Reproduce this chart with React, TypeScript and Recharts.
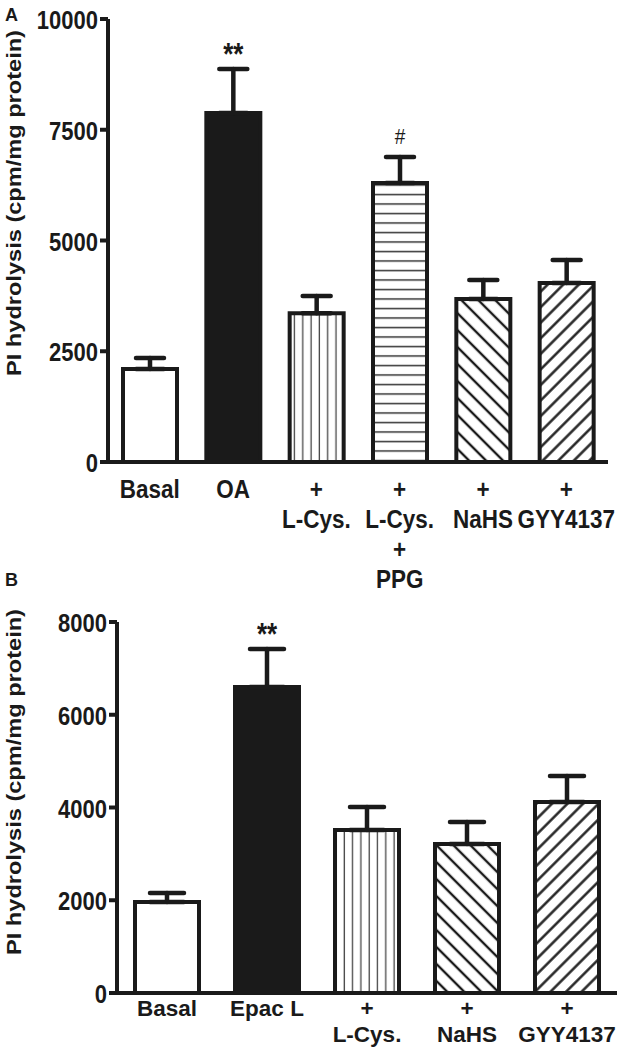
import { Bar, BarChart, Cell, ErrorBar, LabelList, XAxis, YAxis } from "recharts";

// panel A – oleic acid
const panelACategories = ["Basal", "OA", "+\nL-Cys.", "+\nL-Cys.\n+\nPPG", "+\nNaHS", "+\nGYY4137"];
const panelAMeans = [2100, 7880, 3360, 6300, 3680, 4040];
const panelASem = [250, 990, 390, 585, 430, 520];
const panelAMarks = ["", "**", "", "#", "", ""];
const panelATicks = [0, 2500, 5000, 7500, 10000];

// panel B – Epac L
const panelBCategories = ["Basal", "Epac L", "+\nL-Cys.", "+\nNaHS", "+\nGYY4137"];
const panelBMeans = [1960, 6600, 3515, 3215, 4120];
const panelBSem = [195, 820, 495, 475, 560];
const panelBMarks = ["", "**", "", "", ""];
const panelBTicks = [0, 2000, 4000, 6000, 8000];

const yAxisTitle = "PI hydrolysis (cpm/mg protein)";

const INK = "#1a1a1a";
const FONT = "'Liberation Sans', Arial, Helvetica, sans-serif";
// the source figure is stretched vertically, so text is too
const STRETCH = 1.18;

const panelAFills = ["#ffffff", INK, "url(#vlines)", "url(#hlines)", "url(#backslash)", "url(#slash)"];
const panelBFills = ["#ffffff", INK, "url(#vlines)", "url(#backslash)", "url(#slash)"];

const markStyles: Record<string, { size: number; weight: string; gap: number }> = {
  "**": { size: 26, weight: "bold", gap: 4 },
  "#": { size: 19, weight: "normal", gap: 13 },
};

type PanelProps = {
  letter: string;
  categories: string[];
  means: number[];
  sem: number[];
  marks: string[];
  ticks: number[];
  fills: string[];
  top: number;
  height: number;
  plotTop: number;
  xAxisHeight: number;
  yAxisWidth: number;
  right: number;
  barSize: number;
  capHalfWidth: number;
  labelBaseline: number;
  labelGap: number;
  labelStretch: number;
  titleCenter: number;
  letterBaseline: number;
};

function PatternDefs() {
  return (
    <defs>
      <pattern id="vlines" patternUnits="userSpaceOnUse" width={8.3} height={10}>
        <rect width={8.3} height={10} fill="#fff" />
        <line x1={4} y1={0} x2={4} y2={10} stroke="#444" strokeWidth={1.3} />
      </pattern>
      <pattern id="hlines" patternUnits="userSpaceOnUse" width={10} height={9.5}>
        <rect width={10} height={9.5} fill="#fff" />
        <line x1={0} y1={4.5} x2={10} y2={4.5} stroke="#333" strokeWidth={1.5} />
      </pattern>
      <pattern id="backslash" patternUnits="userSpaceOnUse" width={12} height={12} patternTransform="rotate(-45)">
        <rect width={12} height={12} fill="#fff" />
        <line x1={6} y1={0} x2={6} y2={12} stroke={INK} strokeWidth={2.4} />
      </pattern>
      <pattern id="slash" patternUnits="userSpaceOnUse" width={11} height={11} patternTransform="rotate(45)">
        <rect width={11} height={11} fill="#fff" />
        <line x1={5.5} y1={0} x2={5.5} y2={11} stroke={INK} strokeWidth={2.4} />
      </pattern>
    </defs>
  );
}

function ValueTick({ x, y, payload }: any) {
  return (
    <text
      transform={`translate(${x},${y + 10}) scale(1,${STRETCH})`}
      textAnchor="end"
      fontFamily={FONT}
      fontWeight="bold"
      fontSize={22}
      fill={INK}
    >
      {payload.value}
    </text>
  );
}

function CategoryTick({ x, y, payload, baseline, gap, stretch }: any) {
  const lines = String(payload.value).split("\n");
  return (
    <text
      transform={`translate(${x},${y + baseline}) scale(1,${stretch})`}
      textAnchor="middle"
      fontFamily={FONT}
      fontWeight="bold"
      fontSize={22.5}
      fill={INK}
    >
      {lines.map((line, i) => (
        <tspan key={i} x={0} dy={i === 0 ? 0 : gap / stretch}>
          {line}
        </tspan>
      ))}
    </text>
  );
}

function Panel(p: PanelProps) {
  const data = p.categories.map((name, i) => ({
    name,
    mean: p.means[i],
    errRange: [0, p.sem[i]],
    mark: p.marks[i],
  }));
  const domainMax = p.ticks[p.ticks.length - 1];

  const renderMark = (props: any) => {
    const { x, y, width, height, value, index } = props;
    if (!value) return null;
    const style = markStyles[value];
    const capY = y - (height * p.sem[index]) / p.means[index];
    return (
      <text
        transform={`translate(${x + width / 2},${capY - style.gap}) scale(1,${STRETCH})`}
        textAnchor="middle"
        fontFamily={FONT}
        fontWeight={style.weight}
        fontSize={style.size}
        fill={INK}
      >
        {value}
      </text>
    );
  };

  return (
    <div style={{ position: "absolute", left: 0, top: p.top, width: 630, height: p.height }}>
      <div
        style={{
          position: "absolute",
          left: 5,
          top: p.letterBaseline - 16,
          fontFamily: FONT,
          fontWeight: "bold",
          fontSize: 18,
          lineHeight: "18px",
          color: INK,
        }}
      >
        {p.letter}
      </div>
      <BarChart
        width={630}
        height={p.height}
        data={data}
        margin={{ top: p.plotTop, right: p.right, bottom: 0, left: 0 }}
        barCategoryGap={0}
      >
        <PatternDefs />
        <XAxis
          dataKey="name"
          interval={0}
          height={p.xAxisHeight}
          tickLine={false}
          tickSize={0}
          tickMargin={0}
          axisLine={{ stroke: INK, strokeWidth: 4 }}
          tick={(props: any) => (
            <CategoryTick {...props} baseline={p.labelBaseline} gap={p.labelGap} stretch={p.labelStretch} />
          )}
        />
        <YAxis
          type="number"
          domain={[0, domainMax]}
          ticks={p.ticks}
          interval={0}
          width={p.yAxisWidth}
          tickSize={8}
          tickMargin={2}
          axisLine={{ stroke: INK, strokeWidth: 4 }}
          tickLine={{ stroke: INK, strokeWidth: 4 }}
          tick={(props: any) => <ValueTick {...props} />}
          label={{
            content: () => (
              <text
                transform={`translate(21,${p.titleCenter}) scale(1,${STRETCH}) rotate(-90)`}
                textAnchor="middle"
                fontFamily={FONT}
                fontWeight="bold"
                fontSize={20}
                fill={INK}
              >
                {yAxisTitle}
              </text>
            ),
          }}
        />
        <Bar dataKey="mean" barSize={p.barSize} stroke={INK} strokeWidth={4} isAnimationActive={false}>
          {data.map((row, i) => (
            <Cell key={row.name} fill={p.fills[i]} />
          ))}
          <ErrorBar
            dataKey="errRange"
            direction="y"
            width={p.capHalfWidth}
            stroke={INK}
            strokeWidth={4.5}
            strokeLinecap="round"
            isAnimationActive={false}
          />
          <LabelList dataKey="mark" content={renderMark} />
        </Bar>
      </BarChart>
    </div>
  );
}

export default function App() {
  return (
    <div style={{ position: "absolute", left: 0, top: 0, width: 630, height: 1050, background: "#fff" }}>
      <Panel
        letter="A"
        categories={panelACategories}
        means={panelAMeans}
        sem={panelASem}
        marks={panelAMarks}
        ticks={panelATicks}
        fills={panelAFills}
        top={0}
        height={600}
        plotTop={19}
        xAxisHeight={138}
        yAxisWidth={108}
        right={22}
        barSize={54}
        capHalfWidth={14}
        labelBaseline={36}
        labelGap={30}
        labelStretch={STRETCH}
        titleCenter={203}
        letterBaseline={22}
      />
      <Panel
        letter="B"
        categories={panelBCategories}
        means={panelBMeans}
        sem={panelBSem}
        marks={panelBMarks}
        ticks={panelBTicks}
        fills={panelBFills}
        top={570}
        height={480}
        plotTop={52}
        xAxisHeight={57}
        yAxisWidth={117}
        right={13}
        barSize={64}
        capHalfWidth={17}
        labelBaseline={23}
        labelGap={26}
        labelStretch={1}
        titleCenter={212}
        letterBaseline={17}
      />
    </div>
  );
}
